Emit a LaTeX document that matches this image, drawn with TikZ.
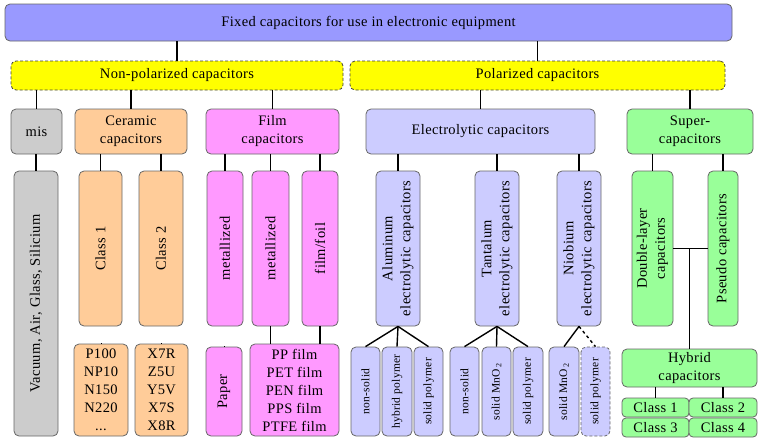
\documentclass[tikz,border=0pt]{standalone}
\usepackage{fontspec}
\setmainfont{Liberation Serif}[LetterSpace=2.5]
\definecolor{ctop}{HTML}{9999FF}
\definecolor{cyel}{HTML}{FFFF00}
\definecolor{cgray}{HTML}{CCCCCC}
\definecolor{ccer}{HTML}{FFCC99}
\definecolor{cfilm}{HTML}{FF99FF}
\definecolor{cel}{HTML}{CCCCFF}
\definecolor{csup}{HTML}{99FF99}
\definecolor{cborder}{HTML}{666666}
\tikzset{
  box/.style={draw=cborder, line width=0.8pt, rounded corners=5pt, inner sep=0pt,
    align=center, font=\fontsize{14.5}{18}\selectfont},
  smallbox/.style={box, font=\fontsize{11.5}{14}\selectfont},
  vbox/.style={box, rotate=90},
  vsmall/.style={smallbox, rotate=90},
  conn/.style={line width=1.4pt, black},
  dashbox/.style={dash pattern=on 3pt off 2pt},
}
\begin{document}
\begin{tikzpicture}[x=1pt, y=-1pt]
\useasboundingbox (0,0) rectangle (764,442);
% level 0
\node[box, fill=ctop, minimum width=727pt, minimum height=37pt] (top) at (368.5,22.5) {Fixed capacitors for use in electronic equipment};
% level 1
\node[box, fill=cyel, dashbox, draw=black!75, minimum width=332pt, minimum height=29pt] (nonpol) at (177,75.5) {Non-polarized capacitors};
\node[box, fill=cyel, dashbox, draw=black!75, minimum width=375pt, minimum height=29pt] (pol) at (537.5,75.5) {Polarized capacitors};
% level 2
\node[box, fill=cgray, minimum width=51pt, minimum height=45pt] (mis) at (36.5,131.5) {mis};
\node[box, fill=ccer, minimum width=112pt, minimum height=45pt] (cer) at (131,131.5) {Ceramic\\capacitors};
\node[box, fill=cfilm, minimum width=133pt, minimum height=45pt] (film) at (272.5,131.5) {Film\\capacitors};
\node[box, fill=cel, minimum width=229pt, minimum height=45pt] (el) at (480.5,131.5) {Electrolytic capacitors};
\node[box, fill=csup, minimum width=126pt, minimum height=45pt] (sup) at (690,131.5) {Super-\\capacitors};
% level 3
\node[vbox, fill=cgray, minimum width=265pt, minimum height=44pt] (vac) at (36,303.5) {Vacuum, Air, Glass, Silicium};
\node[vbox, fill=ccer, minimum width=155pt, minimum height=43pt] (cl1) at (100.5,248.5) {Class 1};
\node[vbox, fill=ccer, minimum width=155pt, minimum height=44pt] (cl2) at (161,248.5) {Class 2};
\node[vbox, fill=cfilm, minimum width=155pt, minimum height=36pt] (met1) at (225,248.5) {metallized};
\node[vbox, fill=cfilm, minimum width=155pt, minimum height=37pt] (met2) at (270.5,248.5) {metallized};
\node[vbox, fill=cfilm, minimum width=155pt, minimum height=36pt] (foil) at (320,248.5) {film/foil};
\node[vbox, fill=cel, minimum width=155pt, minimum height=44pt] (alu) at (398,248.5) {Aluminum\\electrolytic capacitors};
\node[vbox, fill=cel, minimum width=155pt, minimum height=44pt] (tan) at (497,248.5) {Tantalum\\electrolytic capacitors};
\node[vbox, fill=cel, minimum width=155pt, minimum height=44pt] (nio) at (579,248.5) {Niobium\\electrolytic capacitors};
\node[vbox, fill=csup, minimum width=155pt, minimum height=41pt] (dl) at (652.5,248.5) {Double-layer\\capacitors};
\node[vbox, fill=csup, minimum width=155pt, minimum height=30pt] (ps) at (723,248.5) {Pseudo capacitors};
% level 4
\node[box, fill=ccer, minimum width=54pt, minimum height=92pt] (c1list) at (101,390) {P100\\NP10\\N150\\N220\\...};
\node[box, fill=ccer, minimum width=53pt, minimum height=92pt] (c2list) at (161.5,390) {X7R\\Z5U\\Y5V\\X7S\\X8R};
\node[vbox, fill=cfilm, minimum width=89pt, minimum height=36pt] (paper) at (224,391.5) {Paper};
\node[box, fill=cfilm, minimum width=89pt, minimum height=92pt] (pp) at (294.5,390) {PP film\\PET film\\PEN film\\PPS film\\PTFE film};
\node[vsmall, fill=cel, minimum width=89pt, minimum height=29pt] (a1) at (365.5,391.5) {non-solid};
\node[vsmall, fill=cel, minimum width=89pt, minimum height=30pt] (a2) at (397,391.5) {hybrid polymer};
\node[vsmall, fill=cel, minimum width=89pt, minimum height=29pt] (a3) at (428.5,391.5) {solid polymer};
\node[vsmall, fill=cel, minimum width=89pt, minimum height=29pt] (t1) at (464.5,391.5) {non-solid};
\node[vsmall, fill=cel, minimum width=89pt, minimum height=29pt] (t2) at (496.5,391.5) {solid MnO\,\textsubscript{2}};
\node[vsmall, fill=cel, minimum width=89pt, minimum height=30pt] (t3) at (528,391.5) {solid polymer};
\node[vsmall, fill=cel, minimum width=89pt, minimum height=30pt] (n1) at (564,391.5) {solid MnO\,\textsubscript{2}};
\node[vsmall, fill=cel, dashbox, minimum width=89pt, minimum height=29pt] (n2) at (595.5,391.5) {solid polymer};
\node[box, fill=csup, minimum width=135pt, minimum height=38pt] (hyb) at (689.5,368) {Hybrid\\capacitors};
\node[box, fill=csup, rounded corners=4pt, minimum width=67pt, minimum height=19pt] (h1) at (655.5,407.5) {Class 1};
\node[box, fill=csup, rounded corners=4pt, minimum width=68pt, minimum height=19pt] (h2) at (723,407.5) {Class 2};
\node[box, fill=csup, rounded corners=4pt, minimum width=67pt, minimum height=19pt] (h3) at (655.5,427.5) {Class 3};
\node[box, fill=csup, rounded corners=4pt, minimum width=68pt, minimum height=19pt] (h4) at (723,427.5) {Class 4};
% connectors
\draw[conn] (nonpol.north) -- (nonpol.north |- top.south);
\draw[conn] (pol.north) -- (pol.north |- top.south);
\draw[conn] (mis.north) -- (mis.north |- nonpol.south);
\draw[conn] (cer.north) -- (cer.north |- nonpol.south);
\draw[conn] (film.north) -- (film.north |- nonpol.south);
\draw[conn] (el.north) -- (el.north |- pol.south);
\draw[conn] (sup.north) -- (sup.north |- pol.south);
\draw[conn] (vac.east) -- (vac.east |- mis.south);
\draw[conn] (cl1.east) -- (cl1.east |- cer.south);
\draw[conn] (cl2.east) -- (cl2.east |- cer.south);
\draw[conn] (met1.east) -- (met1.east |- film.south);
\draw[conn] (met2.east) -- (met2.east |- film.south);
\draw[conn] (foil.east) -- (foil.east |- film.south);
\draw[conn] (alu.east) -- (alu.east |- el.south);
\draw[conn] (tan.east) -- (tan.east |- el.south);
\draw[conn] (nio.east) -- (nio.east |- el.south);
\draw[conn] (dl.east) -- (dl.east |- sup.south);
\draw[conn] (ps.east) -- (ps.east |- sup.south);
\draw[conn] (c1list.north) -- (c1list.north -| cl1.west);
\draw[conn] (c2list.north) -- (c2list.north -| cl2.west);
\draw[conn] (paper.east) -- (paper.east -| met1.west);
\draw[conn] (met2.west) -- (met2.west |- pp.north);
\draw[conn] (foil.west) -- (foil.west |- pp.north);
\draw[conn] (alu.west) -- (a1.east);
\draw[conn] (alu.west) -- (a2.east);
\draw[conn] (alu.west) -- (a3.east);
\draw[conn] (tan.west) -- (t1.east);
\draw[conn] (tan.west) -- (t2.east);
\draw[conn] (tan.west) -- (t3.east);
\draw[conn] (nio.west) -- (n1.east);
\draw[conn, dashed] (nio.west) -- (n2.east);
\draw[conn] (dl.south) -- (ps.north);
\draw[conn] (hyb.north) -- (hyb.north |- dl.south);
\draw[conn] (h1.north) -- (h1.north |- hyb.south);
\draw[conn] (h2.north) -- (h2.north |- hyb.south);
\end{tikzpicture}
\end{document}
